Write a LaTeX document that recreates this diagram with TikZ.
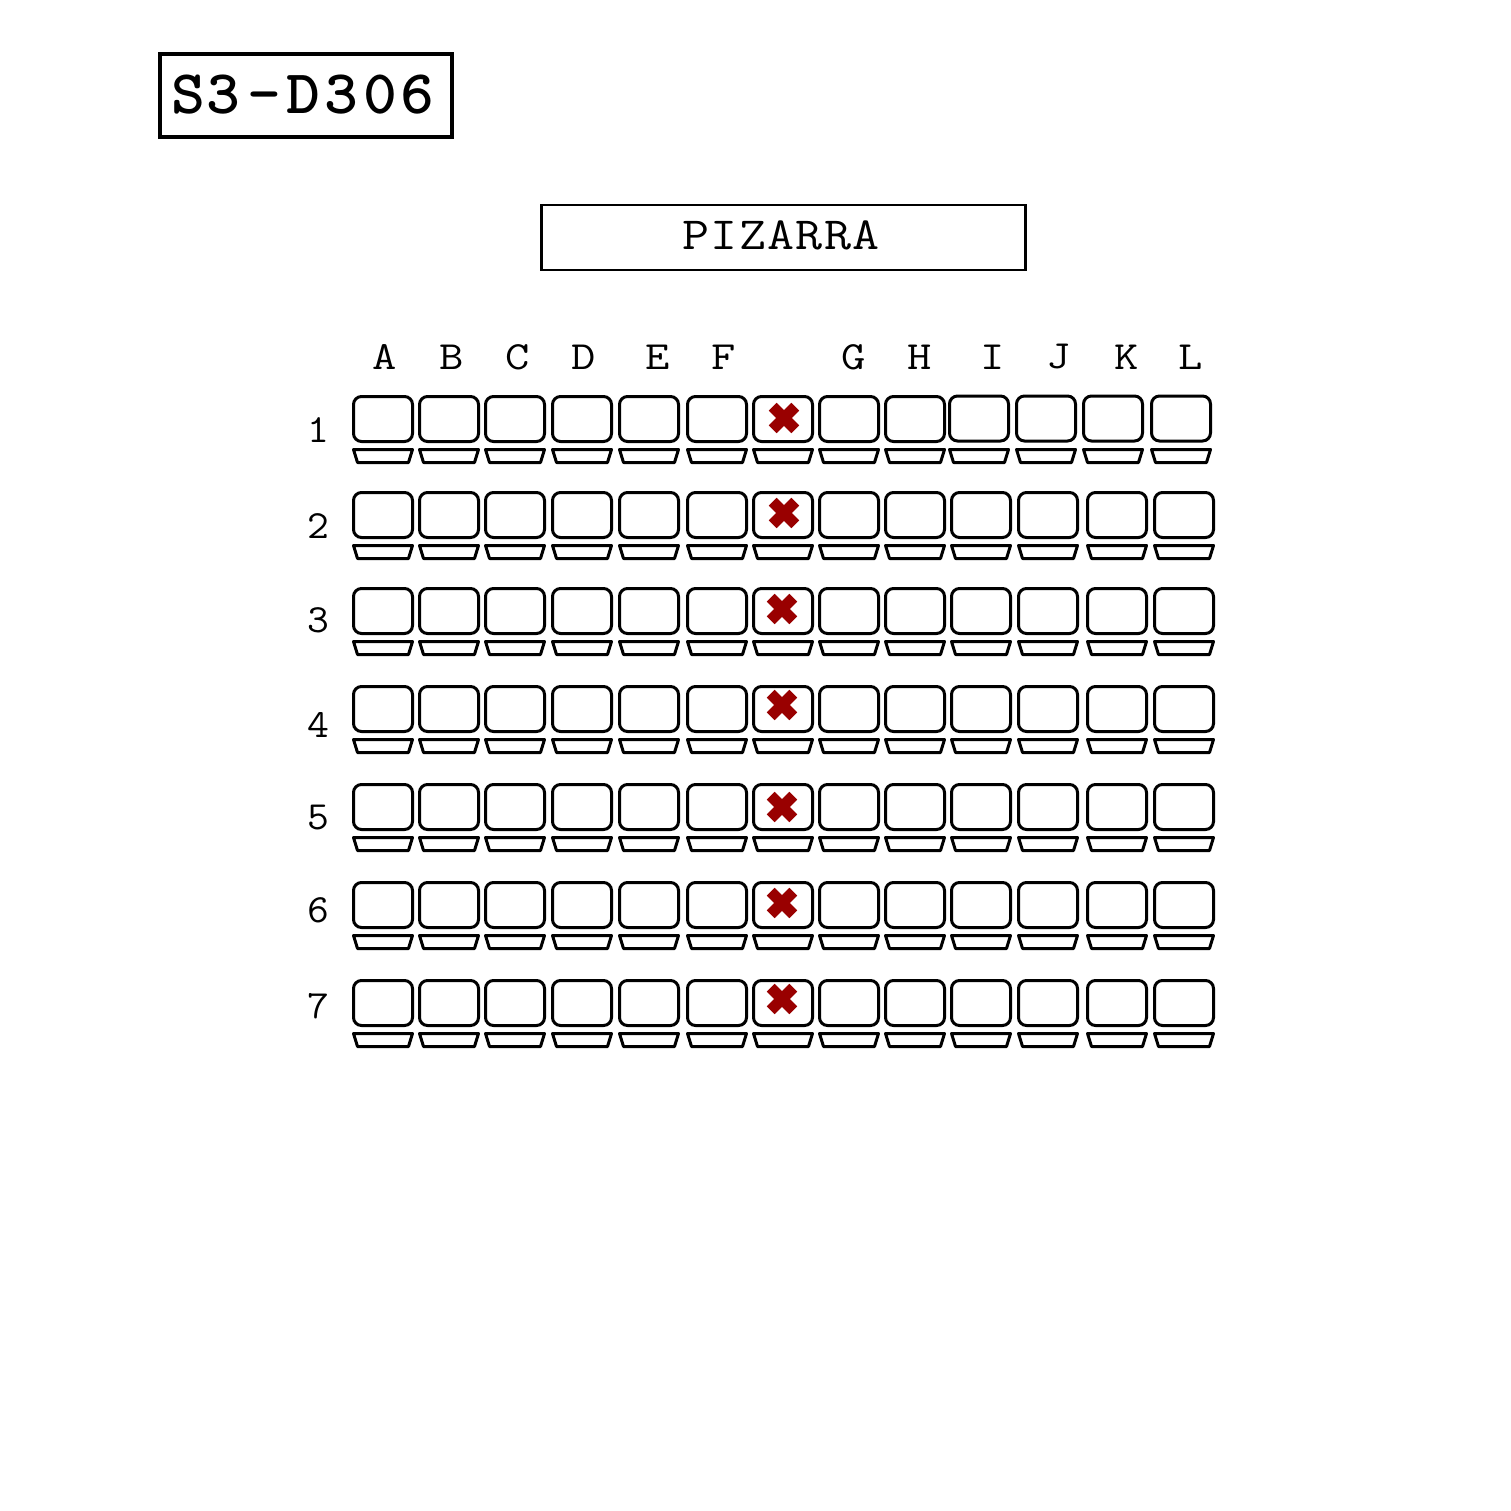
\documentclass[tikz,border=0pt]{standalone}
\usepackage{fontspec}
\newfontfamily\titlemono{Latin Modern Mono Light}[FakeStretch=1.04]
\newfontfamily\boardmono{Latin Modern Mono}[FakeStretch=1.14,LetterSpace=3]
\newfontfamily\labelmono{Latin Modern Mono}[FakeStretch=1.18]
\newfontfamily\digitmono{Latin Modern Mono}[FakeStretch=1.06]
\tikzset{
  seat/.style={draw=black,line width=3pt,rounded corners=8pt,fill=white},
  desk/.style={draw=black,line width=3pt,line join=round,fill=white},
  collabel/.style={font=\labelmono\fontsize{40}{40}\selectfont,inner sep=0pt,anchor=center},
  rowlabel/.style={font=\digitmono\fontsize{40}{40}\selectfont,inner sep=0pt,anchor=center},
  titlebox/.style={draw=black,line width=4pt},
  boardbox/.style={draw=black,line width=2.8pt},
}
\definecolor{crosscol}{RGB}{153,0,0}
\newcommand{\seatonly}[2]{%
  \draw[seat] (#1+0.5,#2+0.5) rectangle +(59,45);
}
\newcommand{\deskonly}[2]{%
  \draw[desk] (#1+0.5,#2+53.5) -- (#1+59.5,#2+53.5) -- (#1+55.5,#2+66.5) -- (#1+4.5,#2+66.5) -- cycle;
}
\newcommand{\crossat}[2]{%
  \fill[crosscol,shift={(#1,#2)},rotate=45] (-16,-5.5) rectangle (16,5.5);
  \fill[crosscol,shift={(#1,#2)},rotate=-45] (-16,-5.5) rectangle (16,5.5);
}
\begin{document}
\begin{tikzpicture}[x=1pt,y=-1pt]
\useasboundingbox (0,0) rectangle (1511,1511);
% title
\draw[titlebox] (159.5,54.5) rectangle (451.5,137.5);
\node[inner sep=0pt,anchor=center] (title) at (303,95) {\titlemono\bfseries\fontsize{62}{62}\selectfont S\kern1pt 3\kern7pt -\kern5pt D\kern5pt 3\kern5pt 0\kern3pt 6};
% board
\draw[boardbox] (541.5,205) rectangle (1025.5,270);
\node[inner sep=0pt,anchor=center] (board) at (781,235.5) {\boardmono\fontsize{46}{46}\selectfont PIZARRA};
% column labels
\foreach \t/\x in {A/385,B/452,C/518,D/584,E/658,F/724,G/854,H/920,I/993,J/1059,K/1127,L/1191}
  \node[collabel] (col\t) at (\x,357) {\t};
% row labels
\foreach \t/\y in {1/430,2/526,3/620,4/725,5/818,6/910,7/1006}
  \node[rowlabel] (row\t) at (318,\y) {\t};
% first row
\foreach \x in {353,419,485,552,619,687,753,819,885} {\seatonly{\x}{396}\deskonly{\x}{396}}
\foreach \x in {949,1016,1083,1151} {\seatonly{\x}{395.5}\deskonly{\x}{396}}
% other rows
\foreach \y in {492,588,686,784,882,980}
  \foreach \x in {353,419,485,552,619,687,753,819,885,951,1018,1087,1154} {\seatonly{\x}{\y}\deskonly{\x}{\y}}
% crosses
\foreach \x/\y in {784/418,784/513,782/609,782/705,782/807,782/903,782/999} {\crossat{\x}{\y}}
\end{tikzpicture}
\end{document}
